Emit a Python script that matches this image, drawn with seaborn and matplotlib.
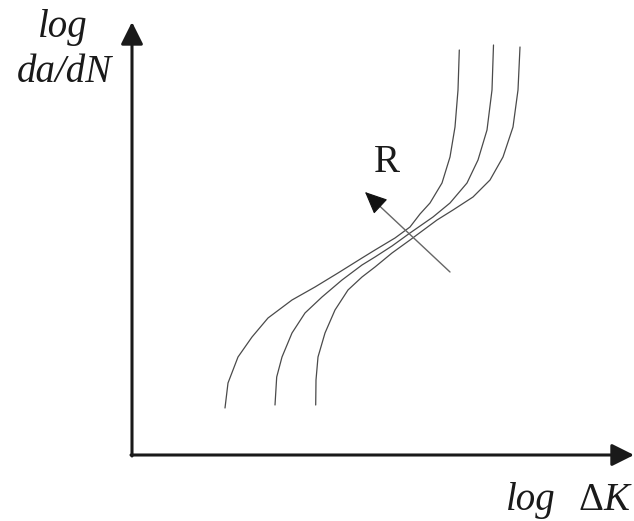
import pandas as pd
import matplotlib
matplotlib.use("Agg")
import matplotlib.pyplot as plt
import seaborn as sns

sns.set_theme(style="white")
plt.rcParams['font.family'] = ['Liberation Serif', 'DejaVu Serif']

# Curvas esquemáticas da/dN vs ΔK (coordenadas, en px)
curva1_x = [225, 228, 238, 252, 268, 292, 315, 338, 362, 375, 395, 410, 420, 430, 442, 450, 455, 458, 459.3]
curva1_y = [408, 383, 357, 337, 318, 300, 287, 273, 258, 250, 238, 227, 214, 203, 183, 157, 127, 90, 50]

curva2_x = [275, 276.7, 282, 292, 305, 322, 342, 362, 375, 392, 410, 433, 450, 467, 478, 487, 492, 493.5]
curva2_y = [405, 377, 357, 333, 313, 297, 280, 265, 257, 246, 233, 217, 203, 183, 160, 130, 90, 45]

curva3_x = [315.7, 316, 318, 325, 335, 348, 362, 375, 392, 410, 437, 453, 473, 490, 503, 513, 518, 520]
curva3_y = [405, 380, 357, 333, 310, 290, 277, 267, 253, 240, 220, 210, 197, 180, 157, 127, 90, 47]

curvas = {'1': (curva1_x, curva1_y), '2': (curva2_x, curva2_y), '3': (curva3_x, curva3_y)}

fig = plt.figure(figsize=(6.34, 5.21), dpi=100)
ax = fig.add_axes([0, 0, 1, 1])

for nombre, (xs, ys) in curvas.items():
    df = pd.DataFrame({'x': xs, 'y': ys})
    sns.lineplot(data=df, x='x', y='y', sort=False, estimator=None,
                 color='#4a4a4a', linewidth=0.9, ax=ax)
for linea in ax.lines:
    linea.set_solid_joinstyle('round')

# Ejes con flechas
estilo_eje = '-|>,head_length=0.9,head_width=0.45'
ax.annotate('', xy=(132, 22), xytext=(132, 456),
            arrowprops=dict(arrowstyle=estilo_eje, color='#1a1a1a', lw=2.2,
                            mutation_scale=15, shrinkA=0, shrinkB=0))
ax.annotate('', xy=(634, 455), xytext=(131, 455),
            arrowprops=dict(arrowstyle=estilo_eje, color='#1a1a1a', lw=2.2,
                            mutation_scale=15, shrinkA=0, shrinkB=0))

# Flecha de R: trazo gris y punta negra
ax.annotate('', xy=(370, 197), xytext=(450, 272),
            arrowprops=dict(arrowstyle='-', color='#666666', lw=1.0, shrinkA=0, shrinkB=0))
ax.annotate('', xy=(365, 192), xytext=(380, 206),
            arrowprops=dict(arrowstyle='-|>,head_length=1.0,head_width=0.45',
                            color='#111111', lw=0.8, mutation_scale=14, shrinkA=0, shrinkB=0))
ax.text(387, 163, 'R', fontsize=28, ha='center', va='center', color='#1a1a1a')

# Etiquetas de los ejes
ax.text(63, 37, 'log', fontsize=28, style='italic', ha='center', va='baseline', color='#1a1a1a')
ax.text(64, 82, 'da/dN', fontsize=28, style='italic', ha='center', va='baseline', color='#1a1a1a')
ax.text(506, 510, 'log', fontsize=28, style='italic', ha='left', va='baseline', color='#1a1a1a')
ax.text(579, 510, 'Δ', fontsize=28, ha='left', va='baseline', color='#1a1a1a')
ax.text(603, 510, 'K', fontsize=28, style='italic', ha='left', va='baseline', color='#1a1a1a')

ax.set_xlim(0, 634)
ax.set_ylim(521, 0)
ax.axis('off')

plt.savefig('out.png', dpi=100)
